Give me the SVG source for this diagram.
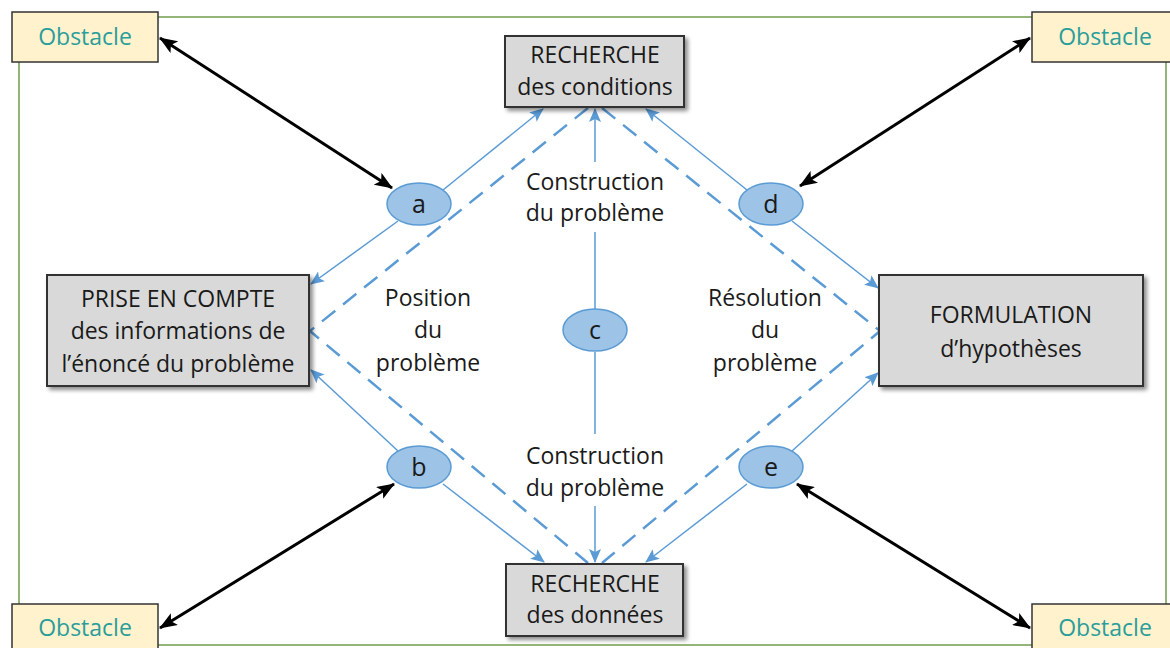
<svg xmlns="http://www.w3.org/2000/svg" width="1170" height="648" viewBox="0 0 1170 648">
<style>
.box{fill:#d9d9d9;stroke:#333;stroke-width:2;filter:url(#sh)}
.obs{fill:#fff2cc;stroke:#333;stroke-width:1.5}
.t{font-family:"Open Sans","Liberation Sans",sans-serif;font-size:23px;fill:#1a1a1a;text-anchor:middle}
.ot{font-family:"Open Sans","Liberation Sans",sans-serif;font-size:23px;fill:#2a9d9d;text-anchor:middle}
.lt{font-size:25px}
.el{fill:#9dc3e6;stroke:#5b9bd5;stroke-width:1.5}
.bl{stroke:#5b9bd5;stroke-width:1.5;fill:none;marker-end:url(#ab)}
.bn{stroke:#5b9bd5;stroke-width:1.5;fill:none}
.ds{stroke:#5b9bd5;stroke-width:2.5;fill:none;stroke-dasharray:17 10}
.bk{stroke:#000;stroke-width:3;fill:none;marker-start:url(#ak);marker-end:url(#ak)}
</style>
<defs>
<filter id="sh" x="-10%" y="-10%" width="125%" height="130%">
<feGaussianBlur in="SourceAlpha" stdDeviation="2"/>
<feOffset dx="3" dy="3" result="o"/>
<feComponentTransfer><feFuncA type="linear" slope="0.45"/></feComponentTransfer>
<feMerge><feMergeNode/><feMergeNode in="SourceGraphic"/></feMerge>
</filter>
<marker id="ab" markerUnits="userSpaceOnUse" markerWidth="14" markerHeight="12" refX="13" refY="6" orient="auto"><path d="M0,0 L14,6 L0,12 L3,6 z" fill="#5b9bd5"/></marker>
<marker id="ak" markerUnits="userSpaceOnUse" markerWidth="18" markerHeight="14" refX="17" refY="7" orient="auto-start-reverse"><path d="M0,0 L18,7 L0,14 L4,7 z" fill="#000"/></marker>
</defs>
<rect x="0" y="0" width="1170" height="648" fill="#fff"/>
<rect x="19" y="17" width="1147" height="628" fill="none" stroke="#93b57a" stroke-width="2"/>

<g id="connectors">
<polyline class="ds" points="588,108 310,331 588,563"/>
<polyline class="ds" points="602,108 880,331 602,563"/>
<line class="bl" x1="443" y1="190" x2="543" y2="109"/>
<line class="bl" x1="398" y1="221" x2="311" y2="284"/>
<line class="bl" x1="398" y1="451" x2="311" y2="370"/>
<line class="bl" x1="443" y1="484" x2="544" y2="562"/>
<line class="bl" x1="747" y1="190" x2="646" y2="109"/>
<line class="bl" x1="792" y1="221" x2="878" y2="288"/>
<line class="bl" x1="792" y1="451" x2="878" y2="373"/>
<line class="bl" x1="747" y1="484" x2="646" y2="562"/>
<line class="bl" x1="595" y1="162" x2="595" y2="109"/>
<line class="bn" x1="595" y1="309" x2="595" y2="232"/>
<line class="bn" x1="595" y1="352" x2="595" y2="434"/>
<line class="bl" x1="595" y1="506" x2="595" y2="562"/>
<line class="bk" x1="160" y1="38" x2="392" y2="188"/>
<line class="bk" x1="1030" y1="38" x2="800" y2="186"/>
<line class="bk" x1="160" y1="628" x2="394" y2="484"/>
<line class="bk" x1="1030" y1="628" x2="797" y2="484"/>
</g>

<g id="obstacle-tl"><rect class="obs" x="12" y="12" width="146" height="50"/><text class="ot" x="85" y="45">Obstacle</text></g>
<g id="obstacle-tr"><rect class="obs" x="1032" y="12" width="146" height="50"/><text class="ot" x="1105" y="45">Obstacle</text></g>
<g id="obstacle-bl"><rect class="obs" x="12" y="604" width="146" height="50"/><text class="ot" x="85" y="636">Obstacle</text></g>
<g id="obstacle-br"><rect class="obs" x="1032" y="604" width="146" height="50"/><text class="ot" x="1105" y="636">Obstacle</text></g>

<g id="recherche-conditions"><rect class="box" x="505" y="36" width="179" height="71"/><text class="t" x="595" y="63">RECHERCHE</text><text class="t" x="595" y="95">des conditions</text></g>
<g id="recherche-donnees"><rect class="box" x="506" y="564" width="177" height="72"/><text class="t" x="595" y="592">RECHERCHE</text><text class="t" x="595" y="623">des données</text></g>
<g id="prise-en-compte"><rect class="box" x="47" y="275" width="262" height="111"/><text class="t" x="178" y="307">PRISE EN COMPTE</text><text class="t" x="178" y="339">des informations de</text><text class="t" x="178" y="372">l’énoncé du problème</text></g>
<g id="formulation"><rect class="box" x="879" y="275" width="264" height="111"/><text class="t" x="1011" y="323">FORMULATION</text><text class="t" x="1011" y="357">d’hypothèses</text></g>

<g id="label-construction-haut"><text class="t" x="595" y="190">Construction</text><text class="t" x="595" y="221">du problème</text></g>
<g id="label-construction-bas"><text class="t" x="595" y="464">Construction</text><text class="t" x="595" y="496">du problème</text></g>
<g id="label-position"><text class="t" x="428" y="306">Position</text><text class="t" x="428" y="338">du</text><text class="t" x="428" y="371">problème</text></g>
<g id="label-resolution"><text class="t" x="765" y="306">Résolution</text><text class="t" x="765" y="338">du</text><text class="t" x="765" y="371">problème</text></g>

<g id="node-a"><ellipse class="el" cx="419" cy="204" rx="32" ry="21"/><text class="t lt" x="419" y="213">a</text></g>
<g id="node-b"><ellipse class="el" cx="419" cy="467" rx="32" ry="21"/><text class="t lt" x="419" y="476">b</text></g>
<g id="node-c"><ellipse class="el" cx="595" cy="330" rx="32" ry="21"/><text class="t lt" x="595" y="339">c</text></g>
<g id="node-d"><ellipse class="el" cx="771" cy="204" rx="32" ry="21"/><text class="t lt" x="771" y="213">d</text></g>
<g id="node-e"><ellipse class="el" cx="771" cy="467" rx="32" ry="21"/><text class="t lt" x="771" y="476">e</text></g>
</svg>
